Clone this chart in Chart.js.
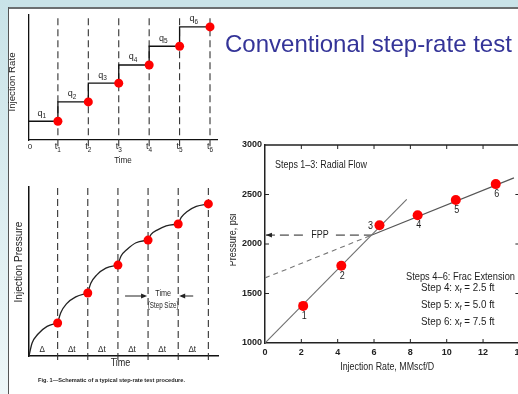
<!DOCTYPE html>
<html>
<head>
<meta charset="utf-8">
<script src="https://cdn.jsdelivr.net/npm/chart.js@4.4.1/dist/chart.umd.min.js"></script>
<style>
  html, body { margin: 0; padding: 0; }
  body { width: 518px; height: 394px; overflow: hidden; position: relative; background: #fff; font-family: "Liberation Sans", Arial, sans-serif; }
  #band { position: absolute; left: 0; top: 0; width: 518px; height: 7px; background: #c9e3e8; }
  #side { position: absolute; left: 0; top: 0; width: 8px; height: 394px; background: linear-gradient(#c9e3e8, #eef7f8); }
  #rule { position: absolute; left: 8px; top: 7px; width: 510px; height: 2px; background: #6b6f70; }
  #vrule { position: absolute; left: 8px; top: 7px; width: 1px; height: 387px; background: #555; }
  #title { position: absolute; left: 225px; top: 32px; font-size: 24px; line-height: 24px; color: #343498; white-space: nowrap; }
  canvas { position: absolute; }
</style>
</head>
<body>
<div id="band"></div>
<div id="side"></div>
<div id="rule"></div>
<div id="vrule"></div>
<canvas id="rate" width="230" height="175" style="left:0;top:0"></canvas>
<canvas id="press" width="230" height="224" style="left:0;top:170px"></canvas>
<canvas id="srt" width="300" height="264" style="left:230px;top:130px"></canvas>
<div id="title">Conventional step-rate test</div>
<script>
const FONT = '"Liberation Sans", Arial, sans-serif';

// top left: injection rate steps
const stepTimes = [1, 2, 3, 4, 5, 6];
const stepNames = ['1', '2', '3', '4', '5', '6'];
const rateLevels = [1.5, 3.05, 4.55, 6.0, 7.5, 9.05];

// bottom left: injection pressure during each step
const pressureAtStep = [1.95, 3.73, 5.38, 6.86, 7.81, 9.0];
const pressureCurve = [
  [[0.05, 0], [0.15, 0.75], [0.35, 1.3], [0.65, 1.75], [1, 1.95]],
  [[1, 1.95], [1.1, 2.55], [1.3, 3.1], [1.6, 3.5], [2, 3.73]],
  [[2, 3.73], [2.1, 4.3], [2.3, 4.8], [2.6, 5.2], [3, 5.38]],
  [[3, 5.38], [3.1, 5.9], [3.3, 6.3], [3.6, 6.7], [4, 6.86]],
  [[4, 6.86], [4.1, 7.2], [4.3, 7.45], [4.6, 7.7], [5, 7.81]],
  [[5, 7.81], [5.1, 8.2], [5.3, 8.55], [5.6, 8.85], [6, 9.0]]
];
const deltaLabels = ['Δ', 'Δt', 'Δt', 'Δt', 'Δt', 'Δt'];

// right: pressure vs injection rate
const rateMMscf = [2.1, 4.2, 6.3, 8.4, 10.5, 12.7];
const pressurePsi = [1375, 1780, 2190, 2290, 2445, 2605];
const radialLine = [[0, 1000], [7.8, 2450]];
const fracLine = [[5.85, 2088], [13.7, 2668]];
const fracExtrap = [[0, 1657], [5.85, 2088]];
const fppLine = [[0.05, 2090], [5.85, 2090]];
const fracSteps = [['4', '2.5'], ['5', '5.0'], ['6', '7.5']];

const xy = arr => arr.map(p => ({ x: p[0], y: p[1] }));

// draws text runs, [str, isSubscript]
function text(ctx, parts, x, y, o) {
  const size = o.size || 9, sub = size * 0.72;
  const font = s => (o.weight || 'normal') + ' ' + s + 'px ' + FONT;
  ctx.save();
  ctx.fillStyle = o.color || '#1e1e1e';
  ctx.textBaseline = 'middle';
  ctx.textAlign = 'left';
  let w = 0;
  const widths = parts.map(p => {
    ctx.font = font(p[1] ? sub : size);
    const m = ctx.measureText(p[0]).width;
    w += m;
    return m;
  });
  const sx = o.w ? o.w / w : (o.sx || 1);
  ctx.translate(x, y);
  if (o.rot) ctx.rotate(o.rot);
  ctx.scale(sx, 1);
  let cx = o.align === 'center' ? -w / 2 : o.align === 'right' ? -w : 0;
  parts.forEach((p, i) => {
    ctx.font = font(p[1] ? sub : size);
    ctx.fillText(p[0], cx, p[1] ? size * 0.32 : 0);
    cx += widths[i];
  });
  ctx.restore();
}

function arrowHead(ctx, x, y, dir, len) {
  ctx.save();
  ctx.fillStyle = '#222';
  ctx.beginPath();
  ctx.moveTo(x, y);
  ctx.lineTo(x - dir * len, y - len * 0.4);
  ctx.lineTo(x - dir * len, y + len * 0.4);
  ctx.closePath();
  ctx.fill();
  ctx.restore();
}

function plainScales(xmin, xmax, ymin, ymax, bw) {
  const axis = (min, max, fit) => ({
    type: 'linear', min, max, display: true,
    grid: { display: false, drawTicks: false },
    ticks: { display: false },
    border: { display: true, color: '#111', width: bw },
    afterFit: fit
  });
  return {
    x: axis(xmin, xmax, s => { s.height = 0; }),
    y: axis(ymin, ymax, s => { s.width = 0; })
  };
}

const common = {
  responsive: false,
  animation: false,
  events: [],
  plugins: { legend: { display: false }, tooltip: { enabled: false } }
};

const dashedAt = (top, bottom) => stepTimes.map(t => ({
  data: [{ x: t, y: bottom }, { x: t, y: top }],
  showLine: true, borderColor: '#333', borderWidth: 1.1, borderDash: [7, 4],
  pointRadius: 0, clip: false, order: 3
}));

// ---- chart 1: injection rate
const stepPts = [{ x: 0, y: rateLevels[0] }];
stepTimes.forEach((t, i) => {
  stepPts.push({ x: t, y: rateLevels[i] });
  if (i + 1 < rateLevels.length) stepPts.push({ x: t, y: rateLevels[i + 1] });
});

const rateNotes = {
  id: 'rateNotes',
  afterDraw(chart) {
    const { ctx, chartArea: a, scales: { x, y } } = chart;
    rateLevels.forEach((q, i) => {
      const t0 = i === 0 ? 0 : stepTimes[i - 1];
      const px = (x.getPixelForValue(t0) + x.getPixelForValue(stepTimes[i])) / 2 - 1;
      text(ctx, [['q'], [stepNames[i], 1]], px, y.getPixelForValue(q) - 8, { size: 9, align: 'center' });
    });
    text(ctx, [['0']], a.left + 1, a.bottom + 7, { size: 8, align: 'center' });
    stepTimes.forEach((t, i) => {
      text(ctx, [['t'], [stepNames[i], 1]], x.getPixelForValue(t), a.bottom + 7, { size: 9, align: 'center' });
    });
    text(ctx, [['Time']], (a.left + a.right) / 2, a.bottom + 21, { size: 9, align: 'center', sx: 0.9 });
    text(ctx, [['Injection Rate']], 13, 82, { size: 9, align: 'center', rot: -Math.PI / 2, w: 59 });
  }
};

new Chart(document.getElementById('rate'), {
  type: 'scatter',
  data: {
    datasets: [
      {
        data: stepTimes.map((t, i) => ({ x: t, y: rateLevels[i] })),
        backgroundColor: '#ff0000', borderWidth: 0, pointRadius: 4.5, order: 1
      },
      {
        data: stepPts, showLine: true, borderColor: '#111', borderWidth: 1.3, pointRadius: 0, order: 2
      },
      ...dashedAt(10, -0.5)
    ]
  },
  options: {
    ...common,
    layout: { padding: { left: 29, top: 15, right: 13, bottom: 35 } },
    scales: plainScales(0.05, 6.23, 0, 10, 1.3)
  },
  plugins: [rateNotes]
});

// ---- chart 2: injection pressure
const pressNotes = {
  id: 'pressNotes',
  afterDraw(chart) {
    const { ctx, chartArea: a, scales: { x, y } } = chart;
    deltaLabels.forEach((s, i) => {
      const t0 = i === 0 ? x.min : stepTimes[i - 1];
      const px = (x.getPixelForValue(t0) + x.getPixelForValue(stepTimes[i])) / 2 - 1;
      text(ctx, [[s]], px, a.bottom - 6, { size: 9, align: 'center', sx: 0.9 });
    });
    text(ctx, [['Time']], (a.left + a.right) / 2 - 3, a.bottom + 7, { size: 10, align: 'center', sx: 0.9 });
    text(ctx, [['Fig. 1—Schematic of a typical step-rate test procedure.']], 38, a.bottom + 24, { size: 6, weight: 'bold', w: 147 });
    text(ctx, [['Injection Pressure']], 19, 92, { size: 10, align: 'center', rot: -Math.PI / 2, w: 81 });

    const p4 = x.getPixelForValue(stepTimes[3]), p5 = x.getPixelForValue(stepTimes[4]);
    const cy = y.getPixelForValue(3.55);
    text(ctx, [['Time']], (p4 + p5) / 2, cy - 2, { size: 8.5, align: 'center', sx: 0.85 });
    text(ctx, [['(Step Size)']], (p4 + p5) / 2, cy + 10, { size: 8.5, align: 'center', w: 31 });
    ctx.save();
    ctx.strokeStyle = '#222';
    ctx.lineWidth = 1;
    ctx.beginPath();
    ctx.moveTo(p4 - 23, cy); ctx.lineTo(p4 - 3, cy);
    ctx.moveTo(p5 + 15, cy); ctx.lineTo(p5 + 3, cy);
    ctx.stroke();
    ctx.restore();
    arrowHead(ctx, p4 - 1, cy, 1, 6);
    arrowHead(ctx, p5 + 1, cy, -1, 6);
  }
};

new Chart(document.getElementById('press'), {
  type: 'scatter',
  data: {
    datasets: [
      {
        data: stepTimes.map((t, i) => ({ x: t, y: pressureAtStep[i] })),
        backgroundColor: '#ff0000', borderWidth: 0, pointRadius: 4.5, order: 1
      },
      ...pressureCurve.map(seg => ({
        data: xy(seg), showLine: true, borderColor: '#222', borderWidth: 1.3,
        pointRadius: 0, cubicInterpolationMode: 'monotone', order: 2
      })),
      ...dashedAt(10.1, -0.24)
    ]
  },
  options: {
    ...common,
    layout: { padding: { left: 29, top: 17, right: 12, bottom: 38 } },
    scales: plainScales(0.05, 6.32, 0, 10, 1.5)
  },
  plugins: [pressNotes]
});

// ---- chart 3: pressure vs rate
const srtNotes = {
  id: 'srtNotes',
  afterDraw(chart) {
    const { ctx, chartArea: a, scales: { x, y } } = chart;
    // top/right frame and inward ticks
    ctx.save();
    ctx.strokeStyle = '#222';
    ctx.lineWidth = 1.4;
    ctx.beginPath();
    ctx.moveTo(a.left, a.top); ctx.lineTo(a.right, a.top); ctx.lineTo(a.right, a.bottom);
    ctx.stroke();
    ctx.lineWidth = 1;
    ctx.beginPath();
    x.ticks.forEach(t => {
      if (t.value <= x.min || t.value >= x.max) return;
      const px = x.getPixelForValue(t.value);
      ctx.moveTo(px, a.bottom); ctx.lineTo(px, a.bottom - 4);
      ctx.moveTo(px, a.top); ctx.lineTo(px, a.top + 4);
    });
    y.ticks.forEach(t => {
      if (t.value <= y.min || t.value >= y.max) return;
      const py = y.getPixelForValue(t.value);
      ctx.moveTo(a.left, py); ctx.lineTo(a.left + 4, py);
      ctx.moveTo(a.right, py); ctx.lineTo(a.right - 4, py);
    });
    ctx.stroke();
    ctx.restore();

    // FPP arrow + label
    const fy = y.getPixelForValue(fppLine[0][1]);
    arrowHead(ctx, x.getPixelForValue(fppLine[0][0]), fy, -1, 6);
    ctx.save();
    ctx.fillStyle = '#fff';
    ctx.fillRect(76, fy - 5, 28, 10);
    ctx.restore();
    text(ctx, [['FPP']], 90, fy, { size: 10, align: 'center', sx: 0.9 });

    rateMMscf.forEach((r, i) => {
      const px = x.getPixelForValue(r), py = y.getPixelForValue(pressurePsi[i]);
      if (i === 2) text(ctx, [[stepNames[i]]], px - 9, py + 1, { size: 10, align: 'center', sx: 0.9 });
      else text(ctx, [[stepNames[i]]], px + 1, py + 10, { size: 10, align: 'center', sx: 0.9 });
    });

    text(ctx, [['Steps 1–3: Radial Flow']], 45, 35, { size: 10, w: 92 });
    text(ctx, [['Steps 4–6: Frac Extension']], 176, 147, { size: 10, w: 109 });
    fracSteps.forEach((s, i) => {
      text(ctx, [['Step ' + s[0] + ': x'], ['f', 1], [' = ' + s[1] + ' ft']], 191, 158 + i * 17, { size: 10, sx: 0.98 });
    });
    text(ctx, [['Injection Rate, MMscf/D']], (a.left + a.right) / 2 - 5, a.bottom + 24, { size: 10, align: 'center', w: 94 });
    text(ctx, [['Pressure, psi']], 3, 110, { size: 10, align: 'center', rot: -Math.PI / 2, sx: 0.9 });
  }
};

const tickFont = { family: FONT, size: 9, weight: 'bold' };
new Chart(document.getElementById('srt'), {
  type: 'scatter',
  data: {
    datasets: [
      {
        data: rateMMscf.map((r, i) => ({ x: r, y: pressurePsi[i] })),
        backgroundColor: '#ff0000', borderWidth: 0, pointRadius: 5, order: 1
      },
      { data: xy(radialLine), showLine: true, borderColor: '#6e6e6e', borderWidth: 1.1, pointRadius: 0, order: 2 },
      { data: xy(fracLine), showLine: true, borderColor: '#555', borderWidth: 1.1, pointRadius: 0, order: 2 },
      { data: xy(fracExtrap), showLine: true, borderColor: '#777', borderWidth: 1.1, borderDash: [5, 4], pointRadius: 0, order: 2 },
      { data: xy(fppLine), showLine: true, borderColor: '#222', borderWidth: 1, borderDash: [9, 5], pointRadius: 0, order: 3 }
    ]
  },
  options: {
    ...common,
    layout: { padding: { left: 0, top: 15, right: 10.6, bottom: 0 } },
    scales: {
      x: {
        type: 'linear', min: 0, max: 14,
        grid: { display: false, drawTicks: false },
        border: { display: true, color: '#222', width: 1.5 },
        ticks: { stepSize: 2, autoSkip: false, maxRotation: 0, padding: 4, color: '#222', font: tickFont, callback: v => String(v) },
        afterFit: s => { s.height = 51; }
      },
      y: {
        type: 'linear', min: 1000, max: 3000,
        grid: { display: false, drawTicks: false },
        border: { display: true, color: '#222', width: 1.5 },
        ticks: { stepSize: 500, padding: 3, color: '#222', font: tickFont, callback: v => String(v) },
        afterFit: s => { s.width = 35; }
      }
    }
  },
  plugins: [srtNotes]
});
</script>
</body>
</html>
